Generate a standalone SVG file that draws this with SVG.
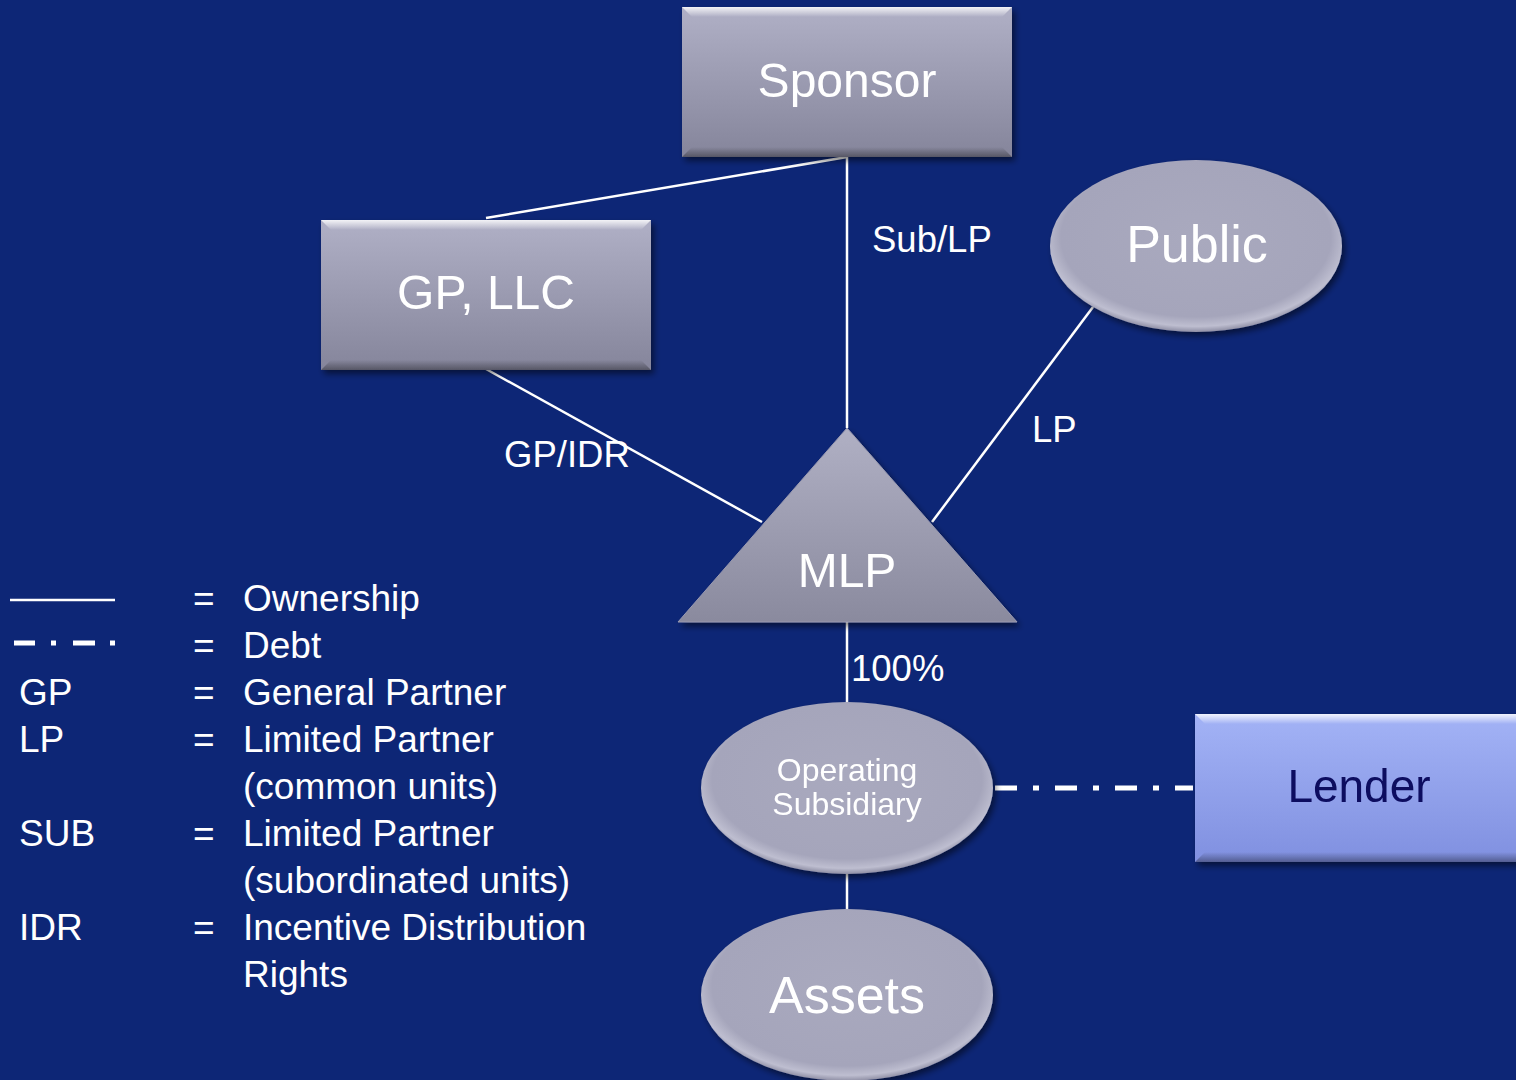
<svg xmlns="http://www.w3.org/2000/svg" width="1516" height="1080" viewBox="0 0 1516 1080">
  <style>
    .lbl { font-family: "Liberation Sans", Arial, sans-serif; fill: #ffffff; }
    .node-text { font-family: "Liberation Sans", Arial, sans-serif; fill: #ffffff; text-anchor: middle; }
    .conn { stroke: #ffffff; stroke-width: 2.5; fill: none; }
    .debt { stroke: #ffffff; stroke-width: 5; fill: none; stroke-dasharray: 22 16 6 16; }
  </style>
  <defs>
    <linearGradient id="boxFill" x1="0" y1="0" x2="0" y2="1">
      <stop offset="0" stop-color="#b0b0c6"/>
      <stop offset="1" stop-color="#85859b"/>
    </linearGradient>
    <linearGradient id="lenderFill" x1="0" y1="0" x2="0" y2="1">
      <stop offset="0" stop-color="#a3b3f6"/>
      <stop offset="1" stop-color="#8090e0"/>
    </linearGradient>
    <linearGradient id="bevelTop" x1="0" y1="0" x2="0" y2="1">
      <stop offset="0" stop-color="#ffffff" stop-opacity="0.85"/>
      <stop offset="1" stop-color="#ffffff" stop-opacity="0"/>
    </linearGradient>
    <linearGradient id="bevelBottom" x1="0" y1="0" x2="0" y2="1">
      <stop offset="0" stop-color="#000000" stop-opacity="0"/>
      <stop offset="1" stop-color="#000000" stop-opacity="0.35"/>
    </linearGradient>
    <radialGradient id="ovalFill" cx="0.5" cy="0.45" r="0.55">
      <stop offset="0" stop-color="#a9a9be"/>
      <stop offset="0.84" stop-color="#a5a5bb"/>
      <stop offset="0.94" stop-color="#bebed0"/>
      <stop offset="1" stop-color="#8e8ea4"/>
    </radialGradient>
    <linearGradient id="triFill" x1="0" y1="0" x2="0" y2="1">
      <stop offset="0" stop-color="#b0b0c4"/>
      <stop offset="1" stop-color="#8a8a9e"/>
    </linearGradient>
    <filter id="shadow" x="-10%" y="-10%" width="125%" height="130%">
      <feGaussianBlur in="SourceAlpha" stdDeviation="3"/>
      <feOffset dx="3" dy="4" result="b"/>
      <feComponentTransfer><feFuncA type="linear" slope="0.5"/></feComponentTransfer>
      <feMerge><feMergeNode/><feMergeNode in="SourceGraphic"/></feMerge>
    </filter>
  </defs>

  <rect x="0" y="0" width="1516" height="1080" fill="#0d2676"/>

  <!-- connectors -->
  <g id="connectors">
    <line class="conn" x1="847" y1="157" x2="486" y2="218"/>
    <line class="conn" x1="847" y1="157" x2="847" y2="428"/>
    <line class="conn" x1="486" y1="369" x2="762" y2="522"/>
    <line class="conn" x1="1093" y1="307" x2="932" y2="522"/>
    <line class="conn" x1="847" y1="620" x2="847" y2="704"/>
    <line class="conn" x1="847" y1="872" x2="847" y2="911"/>
    <line class="debt" x1="995" y1="788" x2="1193" y2="788"/>
    <text class="lbl" x="872" y="252" font-size="36.5">Sub/LP</text>
    <text class="lbl" x="1032" y="442" font-size="36.5">LP</text>
    <text class="lbl" x="504" y="467" font-size="36.5">GP/IDR</text>
    <text class="lbl" x="851" y="681" font-size="36.5">100%</text>
  </g>

  <!-- Sponsor -->
  <g id="sponsor" filter="url(#shadow)">
    <rect x="682" y="7" width="330" height="150" fill="url(#boxFill)"/>
    <polygon points="682,7 1012,7 1002,17 692,17" fill="url(#bevelTop)"/>
    <polygon points="682,157 1012,157 1002,147 692,147" fill="url(#bevelBottom)"/>
    <text class="node-text" x="847" y="97" font-size="48">Sponsor</text>
  </g>

  <!-- GP, LLC -->
  <g id="gp-llc" filter="url(#shadow)">
    <rect x="321" y="220" width="330" height="150" fill="url(#boxFill)"/>
    <polygon points="321,220 651,220 641,230 331,230" fill="url(#bevelTop)"/>
    <polygon points="321,370 651,370 641,360 331,360" fill="url(#bevelBottom)"/>
    <text class="node-text" x="486" y="309" font-size="48">GP, LLC</text>
  </g>

  <!-- Public -->
  <g id="public" filter="url(#shadow)">
    <ellipse cx="1196" cy="246" rx="146" ry="86" fill="url(#ovalFill)"/>
    <text class="node-text" x="1197" y="262" font-size="52">Public</text>
  </g>

  <!-- MLP -->
  <g id="mlp" filter="url(#shadow)">
    <polygon points="847,428 1017,622 678,622" fill="url(#triFill)" stroke="#9a9ab0" stroke-width="1"/>
    <text class="node-text" x="847" y="587" font-size="48">MLP</text>
  </g>

  <!-- Operating Subsidiary -->
  <g id="operating-subsidiary" filter="url(#shadow)">
    <ellipse cx="847" cy="788" rx="146" ry="86" fill="url(#ovalFill)"/>
    <text class="node-text" x="847" y="781" font-size="32">Operating</text>
    <text class="node-text" x="847" y="815" font-size="32">Subsidiary</text>
  </g>

  <!-- Assets -->
  <g id="assets" filter="url(#shadow)">
    <ellipse cx="847" cy="995" rx="146" ry="86" fill="url(#ovalFill)"/>
    <text class="node-text" x="847" y="1013" font-size="52">Assets</text>
  </g>

  <!-- Lender -->
  <g id="lender" filter="url(#shadow)">
    <rect x="1195" y="714" width="330" height="148" fill="url(#lenderFill)"/>
    <polygon points="1195,714 1525,714 1515,724 1205,724" fill="url(#bevelTop)"/>
    <polygon points="1195,862 1525,862 1515,852 1205,852" fill="url(#bevelBottom)"/>
    <text x="1359" y="802" font-size="46" font-family="Liberation Sans, Arial, sans-serif" fill="#0a0a5e" text-anchor="middle">Lender</text>
  </g>

  <!-- legend -->
  <g id="legend">
    <line x1="10" y1="600" x2="115" y2="600" stroke="#ffffff" stroke-width="2.5"/>
    <line x1="14" y1="643" x2="116" y2="643" stroke="#ffffff" stroke-width="5" stroke-dasharray="21 16 5 17 22 15 5 20"/>
    <g class="lbl" font-size="37">
      <text x="193" y="611">=</text>
      <text x="243" y="611">Ownership</text>
      <text x="193" y="658">=</text>
      <text x="243" y="658">Debt</text>
      <text x="19" y="705">GP</text>
      <text x="193" y="705">=</text>
      <text x="243" y="705">General Partner</text>
      <text x="19" y="752">LP</text>
      <text x="193" y="752">=</text>
      <text x="243" y="752">Limited Partner</text>
      <text x="243" y="799">(common units)</text>
      <text x="19" y="846">SUB</text>
      <text x="193" y="846">=</text>
      <text x="243" y="846">Limited Partner</text>
      <text x="243" y="893">(subordinated units)</text>
      <text x="19" y="940">IDR</text>
      <text x="193" y="940">=</text>
      <text x="243" y="940">Incentive Distribution</text>
      <text x="243" y="987">Rights</text>
    </g>
  </g>
</svg>
